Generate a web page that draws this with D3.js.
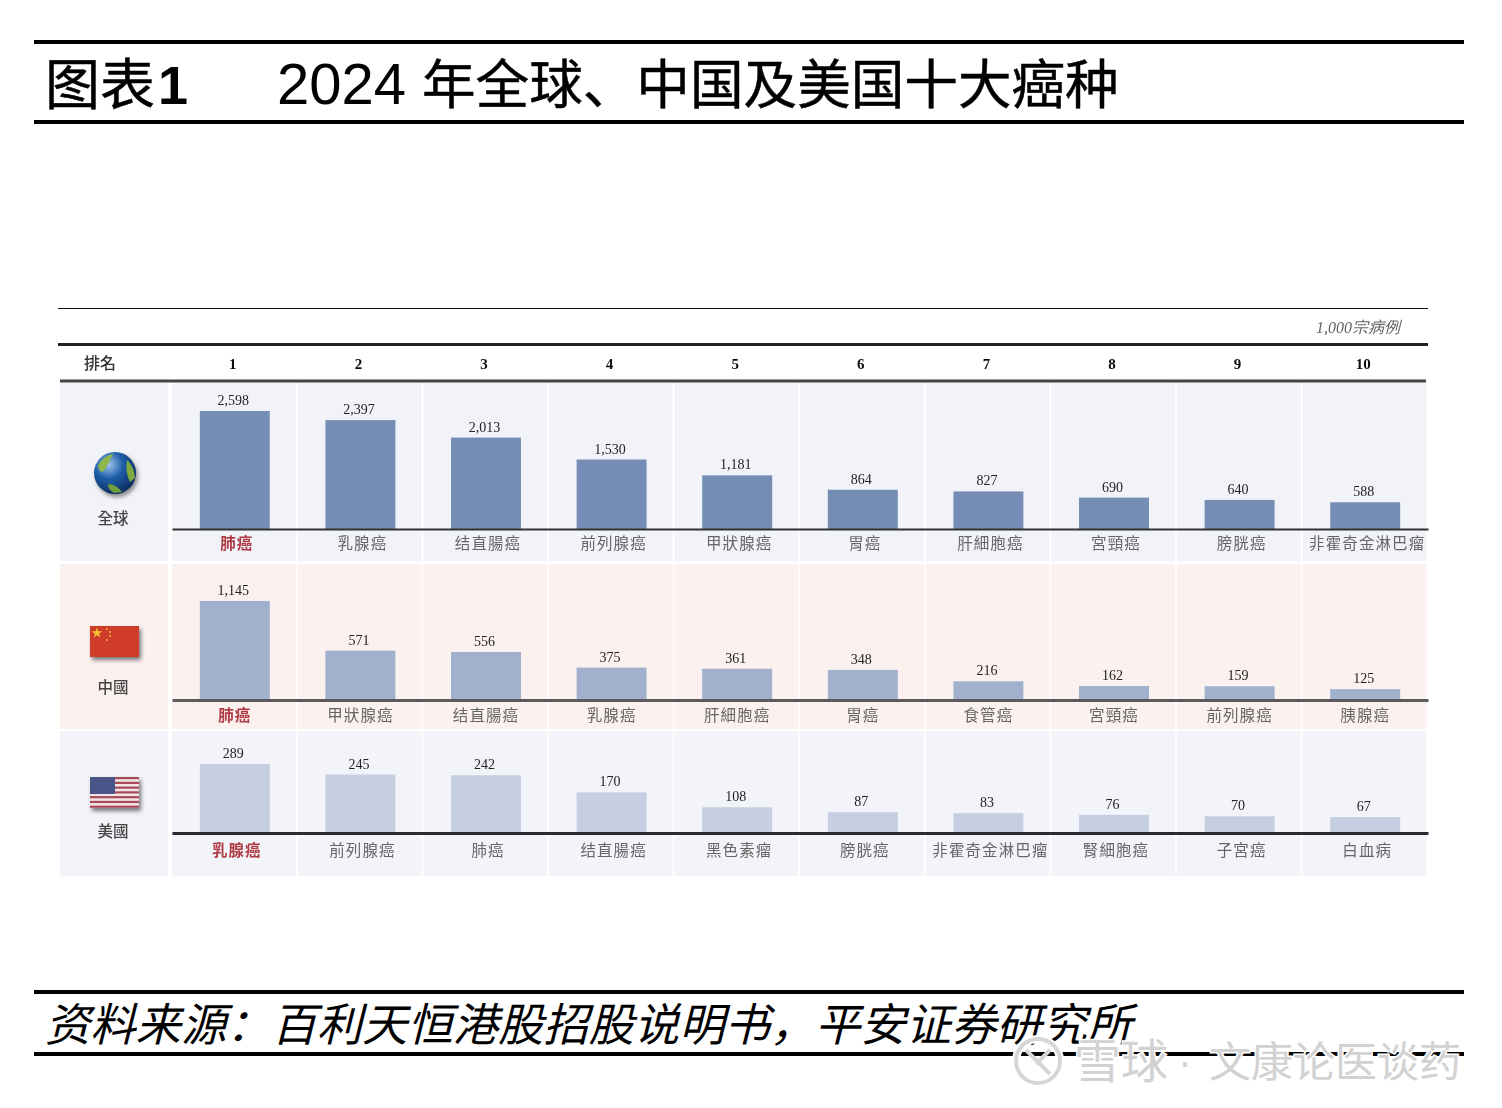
<!DOCTYPE html>
<html><head><meta charset="utf-8">
<script src="https://cdn.jsdelivr.net/npm/d3@7"></script>
<style>
html,body{margin:0;padding:0;background:#fff}
svg{display:block}
.sans{font-family:"Liberation Sans","Noto Sans CJK SC",sans-serif}
.tc{font-family:"Liberation Serif","Noto Sans CJK TC",serif}
</style></head><body>
<script>
const ranks = [1,2,3,4,5,6,7,8,9,10];
const globalValues = [2598,2397,2013,1530,1181,864,827,690,640,588];
const chinaValues = [1145,571,556,375,361,348,216,162,159,125];
const usValues = [289,245,242,170,108,87,83,76,70,67];
const globalCats = ["肺癌","乳腺癌","结直腸癌","前列腺癌","甲狀腺癌","胃癌","肝細胞癌","宮頸癌","膀胱癌","非霍奇金淋巴瘤"];
const chinaCats = ["肺癌","甲狀腺癌","结直腸癌","乳腺癌","肝細胞癌","胃癌","食管癌","宮頸癌","前列腺癌","胰腺癌"];
const usCats = ["乳腺癌","前列腺癌","肺癌","结直腸癌","黑色素瘤","膀胱癌","非霍奇金淋巴瘤","腎細胞癌","子宮癌","白血病"];
const titleYear = "2024";
const titleText = "年全球、中国及美国十大癌种";
const sourceText = "资料来源：百利天恒港股招股说明书，平安证券研究所";

const W = 1502, H = 1108;
const svg = d3.select("body").append("svg").attr("width",W).attr("height",H);
const defs = svg.append("defs");
defs.append("filter").attr("id","soft").attr("x","-5%").attr("y","-5%").attr("width","110%").attr("height","110%")
  .append("feGaussianBlur").attr("stdDeviation",0.7);
defs.append("filter").attr("id","shadow").attr("x","-30%").attr("y","-30%").attr("width","160%").attr("height","160%")
  .append("feGaussianBlur").attr("stdDeviation",2);
const grad = defs.append("radialGradient").attr("id","globe").attr("cx","35%").attr("cy","30%").attr("r","75%");
grad.append("stop").attr("offset","0").attr("stop-color","#9cc6ee");
grad.append("stop").attr("offset",".45").attr("stop-color","#1f5ea8");
grad.append("stop").attr("offset","1").attr("stop-color","#0a2a5e");

/* page frame */
const frame = svg.append("g");
[[42,4],[122,4],[992,4],[1054,4]].forEach(([y,w])=>{
  frame.append("rect").attr("x",34).attr("width",1430).attr("y",y-w/2).attr("height",w).attr("fill","#000");
});
frame.append("text").attr("class","sans").attr("x",45).attr("y",104).attr("font-size",55).attr("fill","#000").attr("stroke","#000").attr("stroke-width",0.5).text("图表");
frame.append("text").attr("class","sans").attr("x",158).attr("y",104).attr("font-size",54).attr("font-weight","bold").attr("fill","#000").text("1");
frame.append("text").attr("class","sans").attr("x",277).attr("y",104).attr("font-size",58).attr("fill","#000").text(titleYear);
frame.append("text").attr("class","sans").attr("x",422).attr("y",104).attr("font-size",53.6).attr("fill","#000").attr("stroke","#000").attr("stroke-width",0.5).text(titleText);
frame.append("text").attr("class","sans").attr("x",45).attr("y",1041).attr("font-size",45.3).attr("font-style","italic").attr("fill","#000").text(sourceText);

/* chart */
const chart = svg.append("g").attr("filter","url(#soft)");
const cellX = d3.scaleBand().domain(ranks).range([172,1428]);
const barX = d3.scaleBand().domain(ranks).range([172,1428]).paddingInner(0.443).paddingOuter(0.2215);

const rows = [
  {values:globalValues,cats:globalCats,top:383,bottom:561,base:529,h:118,bg:"#f1f3f8",bar:"#748db5",line:"#333",lw:2,labelDx:2,labelY:16,
   name:"全球",nameY:518},
  {values:chinaValues,cats:chinaCats,top:564,bottom:729,base:700,h:99,bg:"#fbf1ef",bar:"#a0b0cd",line:"#5c5a5c",lw:3,labelDx:0,labelY:17.5,
   name:"中國",nameY:687},
  {values:usValues,cats:usCats,top:731,bottom:876,base:833,h:69,bg:"#f3f4f9",bar:"#c5cfe1",line:"#2b2b33",lw:3,labelDx:2,labelY:19.5,
   name:"美國",nameY:831}
];

rows.forEach(r=>{
  const g = chart.append("g");
  g.append("rect").attr("x",60).attr("width",108).attr("y",r.top).attr("height",r.bottom-r.top).attr("fill",r.bg);
  g.selectAll("rect.cell").data(ranks).join("rect").attr("class","cell")
    .attr("x",d=>cellX(d)).attr("width",cellX.bandwidth()-(1.6)).attr("y",r.top).attr("height",r.bottom-r.top).attr("fill",r.bg);
  const y = d3.scaleLinear().domain([0,r.values[0]]).range([r.base,r.base-r.h]);
  g.selectAll("rect.bar").data(ranks).join("rect").attr("class","bar")
    .attr("x",d=>barX(d)).attr("width",barX.bandwidth())
    .attr("y",(d,i)=>y(r.values[i])).attr("height",(d,i)=>r.base-y(r.values[i])).attr("fill",r.bar);
  g.selectAll("text.val").data(ranks).join("text").attr("class","val tc")
    .attr("x",d=>barX(d)+barX.bandwidth()/2-1.5).attr("y",(d,i)=>y(r.values[i])-6)
    .attr("text-anchor","middle").attr("font-size",14).attr("fill","#222")
    .text((d,i)=>d3.format(",")(r.values[i]));
  const axis = d3.axisBottom(cellX).tickSize(0).tickPadding(0).tickFormat((d,i)=>r.cats[i]);
  const ag = g.append("g").attr("transform",`translate(0,${r.base})`).call(axis);
  ag.select(".domain").attr("stroke",r.line).attr("stroke-width",r.lw);
  ag.selectAll("text").attr("class","tc").attr("font-size",15.5).attr("dy",0)
    .attr("x",r.labelDx).attr("y",r.labelY)
    .attr("dominant-baseline","middle")
    .attr("letter-spacing",1.1)
    .attr("fill",(d,i)=>i===0?"#b03a44":"#666")
    .attr("font-weight",(d,i)=>i===0?"bold":"normal")
    .attr("font-family",'"Noto Sans CJK TC",sans-serif');
  g.append("text").attr("x",113).attr("y",r.nameY+6).attr("text-anchor","middle")
    .attr("font-size",15.5).attr("font-weight",500).attr("font-family",'"Noto Sans CJK TC",sans-serif').attr("fill","#444").text(r.name);
});

/* header */
const hd = chart.append("g");
hd.append("line").attr("x1",58).attr("x2",1428).attr("y1",308.5).attr("y2",308.5).attr("stroke","#111").attr("stroke-width",1.2);
hd.append("line").attr("x1",58).attr("x2",1428).attr("y1",344.5).attr("y2",344.5).attr("stroke","#222").attr("stroke-width",3);
hd.append("line").attr("x1",60).attr("x2",1426).attr("y1",381).attr("y2",381).attr("stroke","#444").attr("stroke-width",3);
hd.append("text").attr("x",1358).attr("y",333).attr("text-anchor","middle").attr("font-size",16).attr("font-style","italic")
  .attr("font-family",'"Liberation Serif","Noto Sans CJK TC",serif').attr("fill","#666").text("1,000宗病例");
hd.append("text").attr("x",100).attr("y",369).attr("text-anchor","middle").attr("font-size",16).attr("font-weight",500)
  .attr("font-family",'"Noto Sans CJK TC",sans-serif').attr("fill","#333").text("排名");
hd.selectAll("text.rank").data(ranks).join("text").attr("class","rank tc")
  .attr("x",d=>barX(d)+barX.bandwidth()/2-2).attr("y",369).attr("text-anchor","middle")
  .attr("font-size",15).attr("font-weight","bold").attr("fill","#111").text(d=>d);

/* icons */
const ic = chart.append("g");
ic.append("circle").attr("cx",117).attr("cy",476).attr("r",21).attr("fill","#888").attr("filter","url(#shadow)");
ic.append("circle").attr("cx",115).attr("cy",473).attr("r",21).attr("fill","url(#globe)");
ic.append("path").attr("d","M98 466 Q103 456 113 454 Q109 463 104 471 Q100 474 98 466Z").attr("fill","#8fb84a");
ic.append("path").attr("d","M127 460 Q134 466 135 478 L130 482 Q125 472 127 460Z").attr("fill","#7faa3c");
ic.append("path").attr("d","M108 484 Q116 484 122 492 L114 493 Q108 490 108 484Z").attr("fill","#6f9e3a");

ic.append("rect").attr("x",92).attr("y",629).attr("width",49).attr("height",31).attr("fill","#777").attr("filter","url(#shadow)");
ic.append("rect").attr("x",90).attr("y",626).attr("width",49).attr("height",31).attr("fill","#cf3c2c");
ic.append("path").attr("transform","translate(97,633)").attr("d",d3.symbol(d3.symbolStar,36)()).attr("fill","#f2c230");
[[107,629],[110,632],[110,636],[107,640]].forEach(([x,y])=>
  ic.append("circle").attr("cx",x).attr("cy",y).attr("r",0.9).attr("fill","#f2c230"));

ic.append("rect").attr("x",92).attr("y",780).attr("width",49).attr("height",31).attr("fill","#777").attr("filter","url(#shadow)");
ic.append("rect").attr("x",90).attr("y",777).attr("width",49).attr("height",31).attr("fill","#f0e6e8");
d3.range(7).forEach(i=>ic.append("rect").attr("x",90).attr("y",777+i*4.77).attr("width",49).attr("height",2.2).attr("fill","#a84a58"));
ic.append("rect").attr("x",90).attr("y",777).attr("width",25).attr("height",17).attr("fill","#4a5488");

/* watermark */
const wm = svg.append("g");
const wmStyle = s => s.attr("class","sans").attr("fill","#d2d2d2").attr("stroke","#fff").attr("stroke-width",3).attr("paint-order","stroke");
wm.append("circle").attr("cx",1038).attr("cy",1061).attr("r",22).attr("fill","none").attr("stroke","#fff").attr("stroke-width",8);
wm.append("circle").attr("cx",1038).attr("cy",1061).attr("r",22).attr("fill","none").attr("stroke","#d6d6d6").attr("stroke-width",4);
wm.append("path").attr("d","M1026 1050 L1050 1074 M1050 1050 L1036 1064").attr("fill","none").attr("stroke","#d6d6d6").attr("stroke-width",4);
wm.append("text").call(wmStyle).attr("x",1074).attr("y",1078).attr("font-size",47).text("雪球");
wm.append("text").call(wmStyle).attr("x",1178).attr("y",1076).attr("font-size",42).text("·");
wm.append("text").call(wmStyle).attr("x",1209).attr("y",1077).attr("font-size",42).text("文康论医谈药");
</script>
</body></html>
